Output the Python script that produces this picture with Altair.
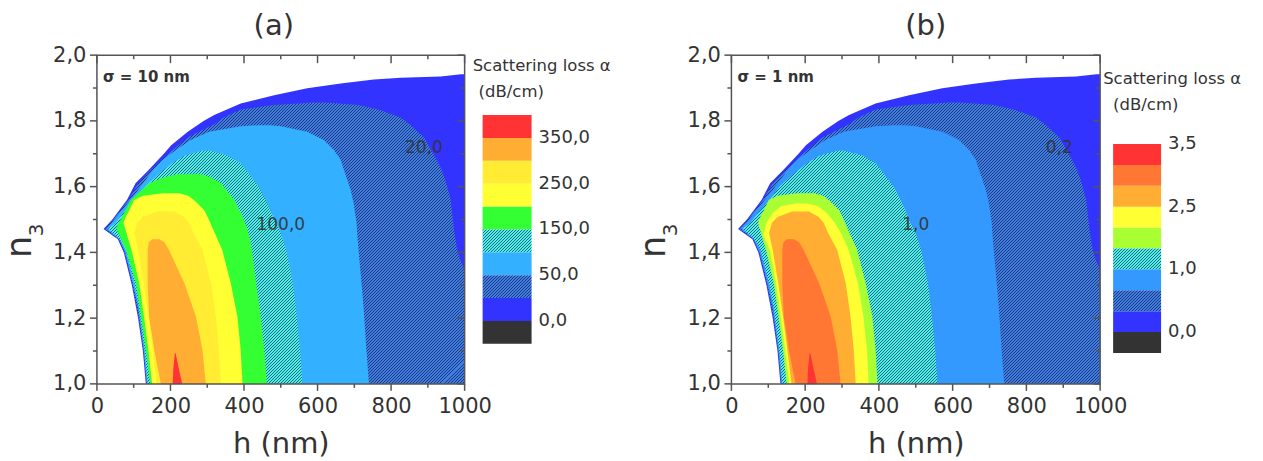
import math
import altair as alt
import pandas as pd

FONT = "DejaVu Sans"
TXT = "#333333"
FRAME = "#555555"

PH = 329
PW_A, PW_B = 368, 369
CBW_A, CBW_B = 267, 163

# ---------------- axis ticks ----------------
H_MAJOR = [0, 200, 400, 600, 800, 1000]
H_MINOR = [100, 300, 500, 700, 900]
N_MAJOR = [1.0, 1.2, 1.4, 1.6, 1.8, 2.0]
N_MINOR = [1.1, 1.3, 1.5, 1.7, 1.9]

# ---------------- contour boundaries ----------------
# each contour: n3 values, left h (nm), right h (nm)
C0_n3 = [1.00, 1.10, 1.20, 1.30, 1.40, 1.44, 1.471, 1.50, 1.56, 1.61, 1.65, 1.70,
         1.726, 1.767, 1.80, 1.818, 1.853, 1.878, 1.899, 1.914, 1.926, 1.931, 1.935, 1.942]
C0_hl = [133, 125, 112, 95, 73, 57, 18, 42, 82, 105, 140, 182,
         202, 247, 290, 319, 391, 482, 572, 663, 753, 826, 935, 990]
C0_hr = [1000, 1000, 1000, 1000, 1000, 1000, 1000, 1000, 1000, 1000, 1000, 1000,
         1000, 1000, 1000, 1000, 1000, 1000, 1000, 1000, 1000, 1000, 1000, 1000]

C1_n3 = [1.00, 1.10, 1.20, 1.30, 1.35, 1.40, 1.44, 1.47, 1.50, 1.56, 1.61, 1.65,
         1.70, 1.75, 1.79, 1.81, 1.835, 1.848, 1.856]
C1_hl = [135, 127, 114, 97, 87, 75, 60, 22, 45, 86, 112, 146,
         194, 248, 319, 345, 391, 482, 590]
C1_hr = [1000, 1000, 1000, 1000, 998, 981, 975, 971, 968, 962, 950, 938,
         915, 889, 850, 826, 765, 712, 620]

C2_n3 = [1.00, 1.10, 1.235, 1.30, 1.40, 1.44, 1.472, 1.489, 1.55, 1.59, 1.65,
         1.681, 1.711, 1.742, 1.767, 1.784, 1.787]
C2_hl = [136, 128, 112, 99, 77, 61, 26, 40, 84, 112, 152, 178, 214, 255, 305, 391, 440]
C2_hr = [740, 733, 725, 720, 712, 709, 707, 706, 698, 690, 672, 663, 645, 617, 572, 500, 470]

C3_n3 = [1.00, 1.10, 1.235, 1.306, 1.407, 1.44, 1.473, 1.488, 1.52, 1.559, 1.60,
         1.64, 1.671, 1.695, 1.71]
C3_hl = [138, 130, 114, 102, 79, 62, 30, 50, 72, 104, 130, 170, 205, 240, 290]
C3_hr = [559, 553, 541, 533, 515, 505, 495, 486, 475, 459, 440, 413, 391, 355, 305]

C4_n3 = [1.00, 1.103, 1.205, 1.306, 1.407, 1.44, 1.474, 1.508, 1.559, 1.61, 1.628, 1.638]
C4_hl = [145, 133, 120, 106, 79, 66, 52, 68, 92, 142, 180, 219]
C4_hr = [462, 455, 445, 433, 421, 416, 408, 396, 373, 337, 310, 283]

C5_n3 = [1.00, 1.103, 1.205, 1.306, 1.407, 1.49, 1.508, 1.528, 1.559, 1.572, 1.58]
C5_hl = [150, 140, 128, 115, 94, 72, 78, 88, 101, 125, 179]
C5_hr = [396, 391, 382, 364, 341, 308, 301, 292, 264, 248, 224]

C5B_n3 = [1.00, 1.10, 1.205, 1.306, 1.407, 1.453, 1.49, 1.52, 1.54, 1.549]
C5B_hl = [157, 146, 134, 121, 104, 87, 95, 112, 135, 175]
C5B_hr = [372, 368, 358, 343, 318, 300, 280, 258, 235, 205]

C6_n3 = [1.00, 1.10, 1.205, 1.306, 1.407, 1.46, 1.49, 1.508, 1.524]
C6_hl = [163, 152, 140, 127, 112, 102, 110, 125, 165]
C6_hr = [337, 332, 323, 310, 287, 262, 250, 237, 210]

C7_n3 = [1.00, 1.103, 1.205, 1.306, 1.407, 1.43, 1.44]
C7_hl = [174, 156, 142, 138, 138, 141, 150]
C7_hr = [296, 287, 269, 238, 196, 184, 170]

C8_n3 = [1.00, 1.05, 1.093]
C8_hl = [206, 208, 212]
C8_hr = [232, 222, 214]

# contour line labels
LAB_A_text = ["20,0", "100,0"]
LAB_B_text = ["0,2", "1,0"]
LAB_h = [889, 500]
LAB_n3 = [1.717, 1.483]

# colour-bar bands (index units) and labels
CB_LO = [0, 1, 2, 3, 4, 5, 6, 7, 8, 9]
CB_HI = [1, 2, 3, 4, 5, 6, 7, 8, 9, 10]
CB_A_POS = [1, 3, 5, 7, 9]
CB_A_TXT = ["0,0", "50,0", "150,0", "250,0", "350,0"]
CB_B_POS = [1, 4, 7, 10]
CB_B_TXT = ["0,0", "1,0", "2,5", "3,5"]

# ---------------- styles ----------------
GRAY = "#333333"
BLUE = "#3333FF"
LBLUE_A = "#33B0FF"
LBLUE_B = "#3399FF"
GREEN = "#33FF33"
YGREEN = "#AAFF33"
YELLOW = "#FFFF33"
YELLOW2 = "#FFEC33"
ORANGE = "#FFAD33"
ORED = "#FF7733"
RED = "#FF3333"
HB = ("#3B7FE8", "#27346E")   # hatched blue (base, line)
HC = ("#44F4F4", "#2D5F66")   # hatched cyan


def hatch(style, w, h):
    base, line = style
    span = w + h
    step = 3.0 / span
    lw = 1.0 / span
    stops = []
    t = 0.0
    while t < 1.0:
        a = round(t, 6)
        b = round(min(t + lw, 1.0), 6)
        c = round(min(t + step, 1.0), 6)
        stops += [alt.GradientStop(color=line, offset=a), alt.GradientStop(color=line, offset=b),
                  alt.GradientStop(color=base, offset=b), alt.GradientStop(color=base, offset=c)]
        t += step
    s = span / (w * w + h * h)
    return alt.Gradient(gradient="linear", x1=0, y1=0, x2=round(s * w, 6), y2=round(s * h, 6),
                        stops=stops)


def make_panel(contours, lab_text, sigma, title, pw, tdx):
    xs = alt.Scale(domain=[0, 1000], nice=False, zero=False)
    ys = alt.Scale(domain=[1.0, 2.0], nice=False, zero=False)
    xax = alt.Axis(title="h (nm)", values=H_MAJOR, format="d", ticks=False, domain=False,
                   grid=False, labelFontSize=21, labelPadding=12, labelColor=TXT,
                   titleFontSize=29, titleFontWeight="normal", titlePadding=13,
                   titleColor=TXT, labelOverlap=False, labelFlush=False)
    yax = alt.Axis(title="", values=N_MAJOR,
                   labelExpr="replace(format(datum.value, '.1f'), '.', ',')",
                   ticks=False, domain=False, grid=False, labelFontSize=21, labelPadding=11,
                   labelColor=TXT, labelOverlap=False, labelFlush=False)
    X = alt.X("h:Q", scale=xs, axis=xax)
    Y = alt.Y("n3:Q", scale=ys, axis=yax)
    layers = []
    for n3, hl, hr, fill in contours:
        df = pd.DataFrame({"n3": n3, "h": hl, "h2": hr})
        if isinstance(fill, tuple):
            w = (max(hr) - min(hl)) * pw / 1000.0
            h = (max(n3) - min(n3)) * PH
            f = hatch(fill, w, h)
        else:
            f = fill
        layers.append(alt.Chart(df).mark_area(orient="horizontal", fill=f, fillOpacity=1,
                                              interpolate="linear")
                      .encode(y=Y, x=X, x2="h2:Q"))
    # contour labels
    layers.append(alt.Chart(pd.DataFrame({"h": LAB_h, "n3": LAB_n3, "t": lab_text}))
                  .mark_text(fontSize=17, color=TXT, opacity=0.9)
                  .encode(x=X, y=Y, text="t:N"))
    # frame
    layers.append(alt.Chart(pd.DataFrame({"k": [0]}))
                  .mark_rect(fillOpacity=0, stroke=FRAME, strokeWidth=1.5)
                  .encode(x=alt.value(0), x2=alt.value(pw), y=alt.value(0), y2=alt.value(PH)))
    # ticks
    hmaj = pd.DataFrame({"h": H_MAJOR})
    hmin = pd.DataFrame({"h": H_MINOR})
    nmaj = pd.DataFrame({"n3": N_MAJOR})
    nmin = pd.DataFrame({"n3": N_MINOR})
    rk = dict(color=FRAME, strokeWidth=1.5)
    layers += [
        alt.Chart(hmaj).mark_rule(**rk).encode(x=X, y=alt.value(PH), y2=alt.value(PH + 7)),
        alt.Chart(hmin).mark_rule(**rk).encode(x=X, y=alt.value(PH), y2=alt.value(PH + 4)),
        alt.Chart(hmaj).mark_rule(**rk).encode(x=X, y=alt.value(0), y2=alt.value(8)),
        alt.Chart(hmin).mark_rule(**rk).encode(x=X, y=alt.value(0), y2=alt.value(4)),
        alt.Chart(nmaj).mark_rule(**rk).encode(y=Y, x=alt.value(0), x2=alt.value(-7)),
        alt.Chart(nmin).mark_rule(**rk).encode(y=Y, x=alt.value(0), x2=alt.value(-4)),
        alt.Chart(nmaj).mark_rule(**rk).encode(y=Y, x=alt.value(pw), x2=alt.value(pw - 7)),
        alt.Chart(nmin).mark_rule(**rk).encode(y=Y, x=alt.value(pw), x2=alt.value(pw - 4)),
    ]
    layers.append(alt.Chart(pd.DataFrame({"t": [sigma]}))
                  .mark_text(align="left", baseline="middle", fontSize=15, fontWeight="bold",
                             color=TXT)
                  .encode(x=alt.value(6), y=alt.value(22), text="t:N"))
    # y-axis title  n with subscript 3
    layers.append(alt.Chart(pd.DataFrame({"t": ["n"]}))
                  .mark_text(angle=270, align="center", baseline="middle", fontSize=35,
                             color=TXT)
                  .encode(x=alt.value(-77), y=alt.value(192), text="t:N"))
    layers.append(alt.Chart(pd.DataFrame({"t": ["3"]}))
                  .mark_text(angle=270, align="center", baseline="middle", fontSize=20,
                             color=TXT)
                  .encode(x=alt.value(-60), y=alt.value(175), text="t:N"))
    return alt.layer(*layers).properties(
        width=pw, height=PH,
        title=alt.TitleParams(title, fontSize=29, fontWeight="normal", offset=3, color=TXT,
                              anchor="middle", dx=tdx))


def make_colorbar(fills, pos, txt, domain, bar_x, bar_w, lab_x, t1, t2, width, band_px):
    ys = alt.Scale(domain=domain, nice=False, zero=False)
    Y = alt.Y("lo:Q", scale=ys, axis=None)
    solid = [(lo, hi, f) for lo, hi, f in zip(CB_LO, CB_HI, fills) if not isinstance(f, tuple)]
    hatched = [(lo, hi, f) for lo, hi, f in zip(CB_LO, CB_HI, fills) if isinstance(f, tuple)]
    layers = [alt.Chart(pd.DataFrame({"lo": [s[0] for s in solid], "hi": [s[1] for s in solid],
                                      "c": [s[2] for s in solid]}))
              .mark_rect()
              .encode(y=Y, y2="hi:Q", x=alt.value(bar_x), x2=alt.value(bar_x + bar_w),
                      color=alt.Color("c:N", scale=None))]
    for lo, hi, f in hatched:
        layers.append(alt.Chart(pd.DataFrame({"lo": [lo], "hi": [hi]}))
                      .mark_rect(fill=hatch(f, bar_w, band_px))
                      .encode(y=Y, y2="hi:Q", x=alt.value(bar_x), x2=alt.value(bar_x + bar_w)))
    layers.append(alt.Chart(pd.DataFrame({"lo": pos, "t": txt}))
                  .mark_text(align="left", baseline="middle", fontSize=18, color=TXT)
                  .encode(y=Y, x=alt.value(lab_x), text="t:N"))
    for (tx, ty, s) in (t1, t2):
        layers.append(alt.Chart(pd.DataFrame({"t": [s]}))
                      .mark_text(align="left", baseline="middle", fontSize=16.5, color=TXT)
                      .encode(x=alt.value(tx), y=alt.value(ty), text="t:N"))
    return alt.layer(*layers).properties(width=width, height=PH)


panel_a = make_panel(
    [(C0_n3, C0_hl, C0_hr, BLUE), (C1_n3, C1_hl, C1_hr, HB), (C2_n3, C2_hl, C2_hr, LBLUE_A),
     (C3_n3, C3_hl, C3_hr, HC), (C4_n3, C4_hl, C4_hr, GREEN), (C5_n3, C5_hl, C5_hr, YELLOW),
     (C6_n3, C6_hl, C6_hr, YELLOW2), (C7_n3, C7_hl, C7_hr, ORANGE), (C8_n3, C8_hl, C8_hr, RED)],
    LAB_A_text, "σ = 10 nm", "(a)", PW_A, -7)

panel_b = make_panel(
    [(C0_n3, C0_hl, C0_hr, BLUE), (C1_n3, C1_hl, C1_hr, HB), (C2_n3, C2_hl, C2_hr, LBLUE_B),
     (C3_n3, C3_hl, C3_hr, HC), (C5_n3, C5_hl, C5_hr, YGREEN), (C5B_n3, C5B_hl, C5B_hr, YELLOW),
     (C6_n3, C6_hl, C6_hr, ORANGE), (C7_n3, C7_hl, C7_hr, ORED), (C8_n3, C8_hl, C8_hr, RED)],
    LAB_B_text, "σ = 1 nm", "(b)", PW_B, 10)

cb_a = make_colorbar([GRAY, BLUE, HB, LBLUE_A, HC, GREEN, YELLOW, YELLOW2, ORANGE, RED],
                     CB_A_POS, CB_A_TXT, [-1.75, 12.62], 18, 49, 74,
                     (8, 11, "Scattering loss α"), (14, 37, "(dB/cm)"), CBW_A, 22.9)
cb_b = make_colorbar([GRAY, BLUE, HB, LBLUE_B, HC, YGREEN, YELLOW, ORANGE, ORED, RED],
                     CB_B_POS, CB_B_TXT, [-1.483, 14.258], 13, 48, 68,
                     (3, 24, "Scattering loss α"), (13, 50, "(dB/cm)"), CBW_B, 20.9)

chart = (alt.hconcat(panel_a, cb_a, panel_b, cb_b, spacing=0, bounds="flush")
         .properties(padding={"left": 3, "top": 12, "right": 0, "bottom": 0})
         .configure(font=FONT)
         .configure_view(strokeWidth=0)
         .configure_axis(labelFont=FONT, titleFont=FONT)
         .configure_title(font=FONT)
         .configure_text(font=FONT))

chart.save("out.html", embed_options={"renderer": "svg", "actions": False})
